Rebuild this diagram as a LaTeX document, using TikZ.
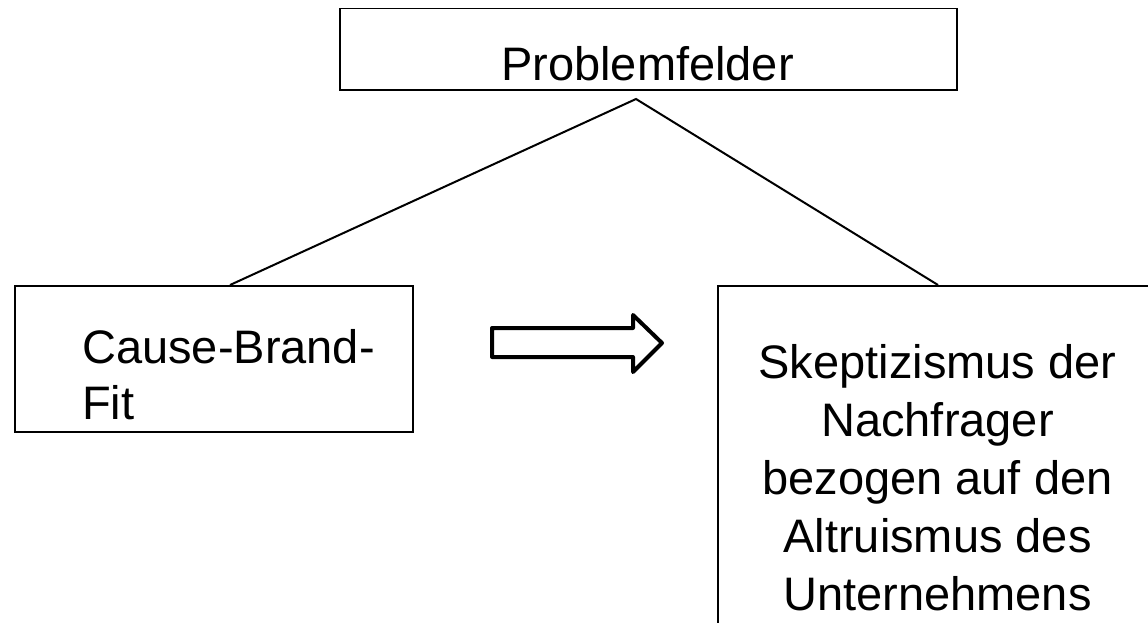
\documentclass[tikz,border=0pt]{standalone}
\usepackage{fontspec}
\setmainfont{Liberation Sans}
\begin{document}
\begin{tikzpicture}[x=1pt,y=-1pt,
  box/.style={draw, line width=1.5pt, inner sep=0pt, anchor=north west},
  txt/.style={inner sep=0pt, font=\fontsize{47}{57}\selectfont},
  link/.style={line width=2pt},
  blockarrow/.style={draw, line width=4pt, line join=round}]
\useasboundingbox (0,0) rectangle (1148,622);
\clip (0,0) rectangle (1148,622);

% boxes
\node[box, minimum width=617pt, minimum height=81.5pt] (top) at (339,7.5) {};
\node[box, minimum width=398pt, minimum height=146pt] (fit) at (14,285) {};
\node[box, minimum width=450pt, minimum height=360pt] (skep) at (717,285) {};

% texts (base anchor of a multi-line node sits on its last line)
\node[txt, anchor=base] (toptext) at (647.5,80) {Problemfelder};
\node[txt, anchor=base west, align=left, font=\fontsize{47}{56}\selectfont]
  (fittext) at (82,419) {Cause-Brand-\\Fit};
\node[txt, anchor=base, align=center, font=\fontsize{47}{58}\selectfont]
  (skeptext) at (937.5,610)
  {Skeptizismus der\\Nachfrager\\bezogen auf den\\Altruismus des\\Unternehmens};

% tree connectors
\coordinate (apex) at (636,99);
\coordinate (lfoot) at (230,285);
\coordinate (rfoot) at (938,285);
\draw[link] (lfoot) -- (apex) -- (rfoot);

% hollow block arrow
\draw[blockarrow] (492,328) -- (633,328) -- (633,315) -- (662,343)
  -- (633,372) -- (633,357) -- (492,357) -- cycle;
\end{tikzpicture}
\end{document}
